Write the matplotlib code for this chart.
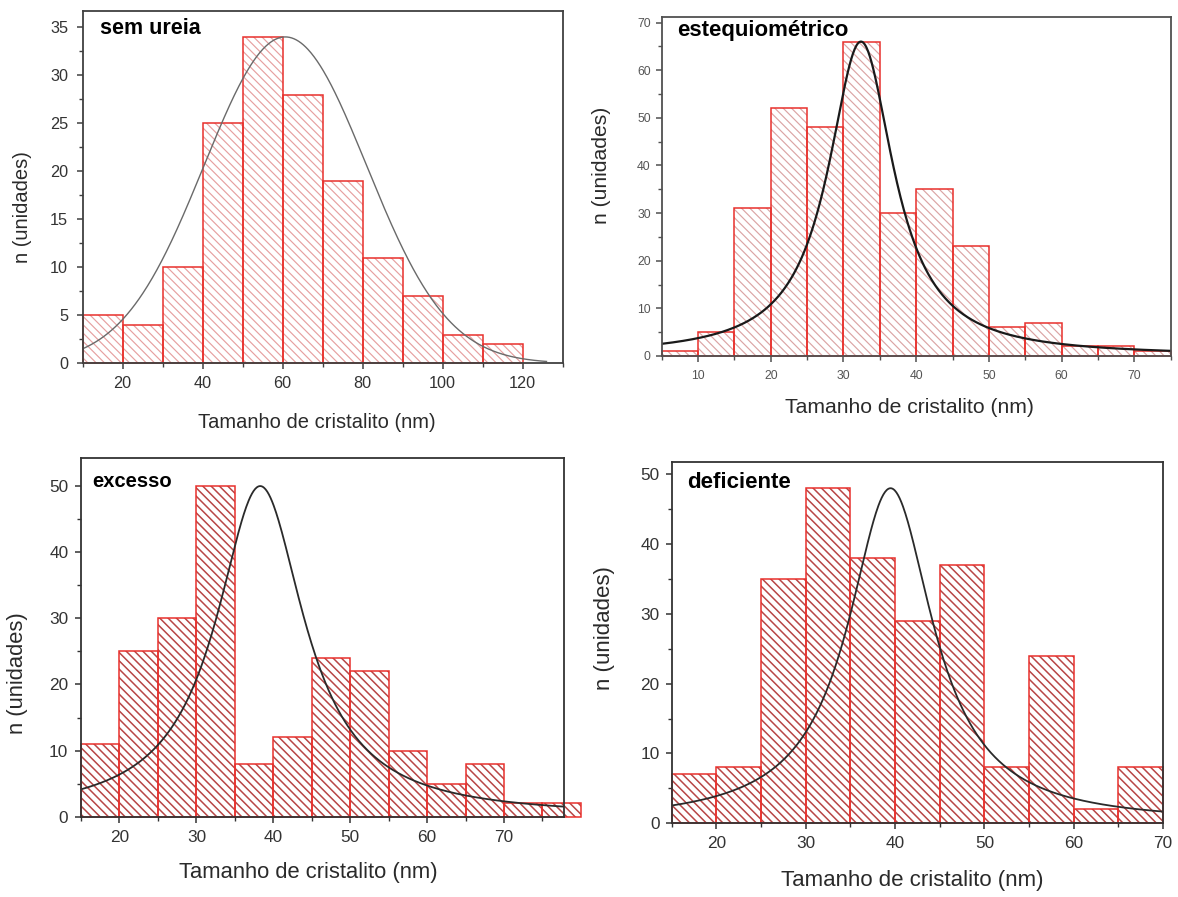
import numpy as np
import matplotlib as mpl
mpl.use("Agg")
import matplotlib.pyplot as plt
from matplotlib.ticker import MultipleLocator

plt.rcParams['font.family'] = ['Liberation Sans', 'DejaVu Sans']
plt.rcParams['hatch.linewidth'] = 1.0

# ---------------------------------------------------------------- data
panel_names = ["sem ureia", "estequiométrico", "excesso", "deficiente"]

sem_ureia_edges = [10, 20, 30, 40, 50, 60, 70, 80, 90, 100, 110, 120]
sem_ureia_counts = [5, 4, 10, 25, 34, 28, 19, 11, 7, 3, 2]

estequiometrico_edges = [5, 10, 15, 20, 25, 30, 35, 40, 45, 50, 55, 60, 65, 70, 75]
estequiometrico_counts = [1, 5, 31, 52, 48, 66, 30, 35, 23, 6, 7, 2, 2, 1]

excesso_edges = [15, 20, 25, 30, 35, 40, 45, 50, 55, 60, 65, 70, 75, 80]
excesso_counts = [11, 25, 30, 50, 8, 12, 24, 22, 10, 5, 8, 2, 2]

deficiente_edges = [15, 20, 25, 30, 35, 40, 45, 50, 55, 60, 65, 70]
deficiente_counts = [7, 8, 35, 48, 38, 29, 37, 8, 24, 2, 8]

# fitted distribution curves (peak model, centre, width, height, x-range)
fit_kind = ["gauss", "lorentz", "lorentz", "lorentz"]
fit_center = [60.7, 32.4, 38.3, 39.5]
fit_width = [20.3, 5.5, 7.0, 5.8]
fit_height = [34, 66, 50, 48]
fit_xmin = [10, 5, 15, 15]
fit_xmax = [126, 75, 77.8, 70]

x_label = "Tamanho de cristalito (nm)"
y_label = "n (unidades)"

edges_all = [sem_ureia_edges, estequiometrico_edges, excesso_edges, deficiente_edges]
counts_all = [sem_ureia_counts, estequiometrico_counts, excesso_counts, deficiente_counts]


def peak(x, kind, xc, w, h):
    if kind == "gauss":
        return h * np.exp(-((x - xc) ** 2) / (2 * w ** 2))
    return h / (1 + ((x - xc) / w) ** 2)


# ---------------------------------------------------------------- styling
W, H = 1178, 897
fig = plt.figure(figsize=(W / 100, H / 100), dpi=100, facecolor="white")

# axes boxes in pixels: left, top, right, bottom
boxes = [
    (82.5, 11.0, 562.5, 363.3),
    (661.7, 17.3, 1170.7, 356.0),
    (81.0, 458.3, 564.0, 816.7),
    (671.7, 461.7, 1163.0, 823.3),
]
xlims = [(10, 130), (5, 75), (15, 77.8), (15, 70)]
ylims = [(0, 36.7), (0, 71.1), (0, 54.2), (0, 51.8)]
x_major = [20, 10, 10, 10]
x_minor = [10, 5, 5, 5]
y_major = [5, 10, 10, 10]
y_minor = [2.5, 5, 5, 5]
hatch_colors = ["#e6a0a0", "#dba4a4", "#b84646", "#b84646"]
hatch_lw = [0.85, 0.85, 1.1, 1.1]
edge_color = "#e8302c"
curve_colors = ["#6a6a6a", "#1a1a1a", "#2a2a2a", "#2a2a2a"]
curve_lw = [1.0, 1.6, 1.3, 1.3]
spine_colors = ["#404040", "#505050", "#333333", "#333333"]
tick_label_colors = ["#333333", "#555555", "#333333", "#333333"]
tick_sizes = [11.7, 8.8, 12.4, 12.4]
label_sizes = [14.5, 15.2, 15.8, 16.0]
name_sizes = [15.5, 16.0, 14.5, 16.0]
name_pos = [(0.0365, 0.934), (0.0306, 0.945), (0.0228, 0.921), (0.031, 0.926)]
xlabel_pos = [(0.489, -0.169), (0.486, -0.1535), (0.47, -0.157), (0.489, -0.157)]
ylabel_pos = [(-0.126, 0.444), (-0.119, 0.564), (-0.1325, 0.401), (-0.136, 0.54)]
ypad = [6.0, 3.5, 4.8, 4.5]
xpad = [5.0, 5.5, 5.0, 5.0]

for i in range(4):
    l, t, r, b = boxes[i]
    ax = fig.add_axes([l / W, 1 - b / H, (r - l) / W, (b - t) / H])
    edges = np.asarray(edges_all[i], dtype=float)
    counts = np.asarray(counts_all[i], dtype=float)
    lefts = edges[:-1]
    widths = np.diff(edges)

    # hatched fill
    hatched = ax.bar(lefts, counts, width=widths, align="edge", color="none",
                     edgecolor=hatch_colors[i], hatch="\\\\\\\\", linewidth=0,
                     clip_on=False, zorder=2)
    for p in hatched:
        if hasattr(p, "set_hatch_linewidth"):
            p.set_hatch_linewidth(hatch_lw[i])
    # bar outlines
    ax.bar(lefts, counts, width=widths, align="edge", fill=False,
           edgecolor=edge_color, linewidth=1.1, clip_on=False, zorder=3)

    # fitted curve
    xs = np.linspace(fit_xmin[i], fit_xmax[i], 600)
    ax.plot(xs, peak(xs, fit_kind[i], fit_center[i], fit_width[i], fit_height[i]),
            color=curve_colors[i], lw=curve_lw[i], zorder=4)

    ax.set_xlim(*xlims[i])
    ax.set_ylim(*ylims[i])
    ax.xaxis.set_major_locator(MultipleLocator(x_major[i]))
    ax.xaxis.set_minor_locator(MultipleLocator(x_minor[i]))
    ax.yaxis.set_major_locator(MultipleLocator(y_major[i]))
    ax.yaxis.set_minor_locator(MultipleLocator(y_minor[i]))

    for s in ax.spines.values():
        s.set_color(spine_colors[i])
        s.set_linewidth(1.3)
        s.set_zorder(5)
    ax.tick_params(which="major", direction="out", length=4.3, width=1.1,
                   color=spine_colors[i], labelcolor=tick_label_colors[i],
                   labelsize=tick_sizes[i])
    ax.tick_params(which="minor", direction="out", length=2.8, width=1.0,
                   color=spine_colors[i])
    ax.tick_params(axis="y", which="major", pad=ypad[i])
    ax.tick_params(axis="x", which="major", pad=xpad[i])

    ax.set_xlabel(x_label, fontsize=label_sizes[i], color="#2a2a2a")
    ax.xaxis.label.set_verticalalignment("center")
    ax.xaxis.set_label_coords(*xlabel_pos[i])
    ax.set_ylabel(y_label, fontsize=label_sizes[i], color="#2a2a2a")
    ax.yaxis.label.set_verticalalignment("center")
    ax.yaxis.set_label_coords(*ylabel_pos[i])

    ax.text(name_pos[i][0], name_pos[i][1], panel_names[i], transform=ax.transAxes,
            ha="left", va="baseline", fontsize=name_sizes[i], fontweight="bold",
            color="black", zorder=6)

fig.savefig("out.png", dpi=100, facecolor="white")
